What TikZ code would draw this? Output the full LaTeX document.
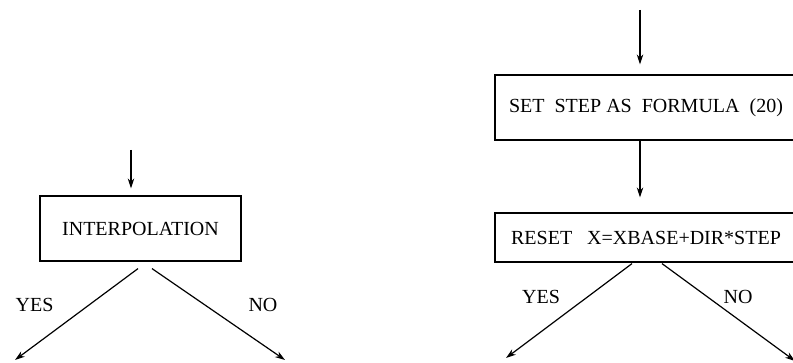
\documentclass[tikz,border=0pt]{standalone}
\usepackage{fontspec}
\setmainfont{Liberation Serif}
\usetikzlibrary{positioning,arrows.meta}

\begin{document}
\begin{tikzpicture}[x=1pt,y=-1pt,>={Stealth[length=10pt,width=6.5pt]},line width=1.2pt,
	font=\fontsize{20}{23}\selectfont,
	box/.style={draw,rectangle,inner sep=0pt}]
	\useasboundingbox (0,0) rectangle (793,363);

	% left part
	\coordinate (inL) at (131,150);
	\node[box,minimum width=201pt,minimum height=65pt] (interp) at (140.5,228.5) {INTERPOLATION};
	\coordinate (yesL) at (15,360);
	\coordinate (noL) at (285,360);
	\node (yesLtxt) at (34.5,305) {YES};
	\node (noLtxt) at (263,305) {NO};

	\draw[->] (inL) -- (inL |- interp.north) [shorten >=7pt];
	\draw[->] ([shift={(-2.5,7)}]interp.south) -- (yesL);
	\draw[->] ([shift={(11.5,7)}]interp.south) -- (noL);

	% right part
	\coordinate (inR) at (640,10);
	\node[box,minimum width=302pt,minimum height=65pt] (setstep) at (646,107.5) {SET\ \ STEP AS\ \ FORMULA\ \ (20)};
	\node[box,minimum width=302pt,minimum height=49pt] (reset) at (646,237.5) {RESET\ \ \ X=XBASE+DIR*STEP};
	\coordinate (yesR) at (506,358);
	\coordinate (noR) at (795,361);
	\node (yesRtxt) at (541,297) {YES};
	\node (noRtxt) at (738,297) {NO};

	\draw[->] (inR) -- (inR |- setstep.north) [shorten >=10pt];
	\draw[->] (inR |- setstep.south) -- (inR |- reset.north) [shorten >=15pt];
	\draw[->] ([shift={(-14,1)}]reset.south) -- (yesR);
	\draw[->] ([shift={(16,1)}]reset.south) -- (noR);

\end{tikzpicture}
\end{document}
